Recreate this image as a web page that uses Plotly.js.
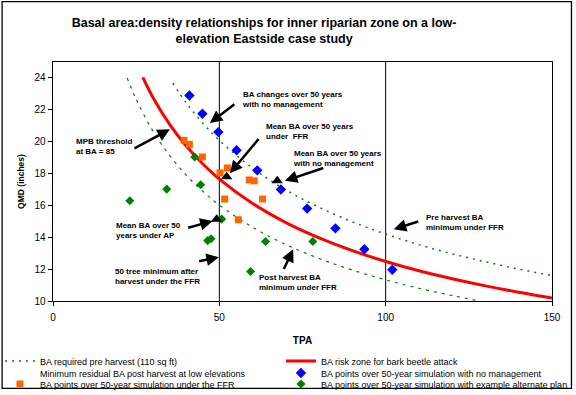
<!DOCTYPE html>
<html>
<head>
<meta charset="utf-8">
<script src="https://cdn.plot.ly/plotly-3.0.1.min.js"></script>
<style>html,body{margin:0;padding:0;background:#fff;}#chart{width:576px;height:395px;}</style>
</head>
<body>
<div id="chart"></div>
<script>
// ---- data ----
const preHarvestTPA = [36, 40, 45, 50, 60, 70, 80, 90, 100, 110, 120, 130, 140, 150];
const preHarvestQMD = [23.67, 22.45, 21.17, 20.08, 18.34, 16.97, 15.88, 14.97, 14.20, 13.54, 12.96, 12.46, 12.00, 11.60];

const riskTPA = [27, 30, 35, 40, 45, 50, 60, 70, 80, 90, 100, 110, 120, 130, 140, 150];
const riskQMD = [24.03, 22.79, 21.10, 19.74, 18.61, 17.65, 16.12, 14.92, 13.96, 13.16, 12.48, 11.90, 11.40, 10.95, 10.55, 10.19];

const residualTPA = [22.3, 25, 30, 35, 40, 45, 50, 60, 70, 80, 90, 100, 110, 120, 128];
const residualQMD = [23.99, 22.66, 20.68, 19.15, 17.91, 16.89, 16.02, 14.63, 13.54, 12.67, 11.94, 11.33, 10.80, 10.34, 10.01];

const noMgmtTPA = [41, 44.9, 49.7, 55.2, 61.4, 68.5, 76.4, 84.9, 93.6, 102];
const noMgmtQMD = [22.9, 21.75, 20.6, 19.46, 18.2, 17.0, 15.8, 14.56, 13.25, 11.96];

const ffrTPA = [39.4, 41.0, 44.9, 50.2, 52.4, 59.0, 60.5, 51.6, 63.0, 55.7];
const ffrQMD = [20.08, 19.83, 19.04, 18.04, 18.35, 17.6, 17.54, 16.4, 16.4, 15.1];

const altTPA = [23.1, 34.2, 42.6, 44.4, 50.7, 46.5, 47.5, 63.9, 78.1, 59.4];
const altQMD = [16.29, 17.02, 19.04, 17.3, 15.14, 13.79, 13.91, 13.73, 13.73, 11.85];

const meanTPA = [52.2, 67.4, 49.2];
const meanQMD = [17.8, 17.54, 15.13];

const thresholdTPA = [50, 100];
const qmdSpan = [10, 25];

const xTicks = [0, 50, 100, 150];
const yTicks = [10, 12, 14, 16, 18, 20, 22, 24];

const seriesNames = [
  'BA required pre harvest (110 sq ft)',
  'Minimum residual BA post harvest at low elevations',
  'BA points over 50-year simulation under the FFR',
  'BA risk zone for bark beetle attack',
  'BA points over 50-year simulation with no management',
  'BA points over 50-year simulation with example alternate plan'
];

// annotation texts and anchors (TPA, QMD)
const noteText = [
  'BA changes over 50 years<br>with no management',
  'Mean BA over 50 years<br>under  FFR',
  'Mean BA over 50 years<br>with no management',
  'MPB threshold<br>at BA = 85',
  'Mean BA over 50<br>years under AP',
  '50 tree minimum after<br>harvest under the FFR',
  'Post harvest BA<br>minimum under FFR',
  'Pre harvest BA<br>minimum under FFR'
];
const noteX = [56.3, 63.3, 71.6, 6.4, 18.2, 17.9, 61.3, 111.6];
const noteY = [22.64, 20.63, 18.95, 19.67, 14.42, 11.54, 11.19, 14.94];
const arrowTailX = [54.98, 62.19, 81.71, 24.03, 40.17, 43.47, 69.19, 110.25];
const arrowTailY = [22.42, 20.26, 18.38, 19.53, 14.57, 12.48, 11.91, 15.02];
const arrowTipX  = [47.17, 53.17, 69.70, 35.15, 47.98, 49.87, 72.19, 102.44];
const arrowTipY  = [21.17, 18.01, 17.54, 20.78, 15.02, 12.75, 13.25, 14.50];

const FONT = 'Arial, "Liberation Sans", sans-serif';

const traces = [];
traces.push({x: [thresholdTPA[0], thresholdTPA[0]], y: qmdSpan, mode: 'lines',
  line: {color: '#000', width: 1}, showlegend: false, hoverinfo: 'skip'});
traces.push({x: [thresholdTPA[1], thresholdTPA[1]], y: qmdSpan, mode: 'lines',
  line: {color: '#000', width: 1}, showlegend: false, hoverinfo: 'skip'});
traces.push({x: preHarvestTPA, y: preHarvestQMD, mode: 'lines', name: seriesNames[0], legend: 'legend',
  line: {color: '#008000', width: 1.5, dash: '2px,5px', shape: 'spline'}});
traces.push({x: residualTPA, y: residualQMD, mode: 'lines', name: seriesNames[1], showlegend: false,
  line: {color: '#008000', width: 1.2, dash: '3px,5px', shape: 'spline'}});
traces.push({x: [null], y: [null], mode: 'lines', name: seriesNames[1], legend: 'legend3',
  line: {color: 'rgba(0,0,0,0)', width: 1}});
traces.push({x: riskTPA, y: riskQMD, mode: 'lines', name: seriesNames[3], legend: 'legend2',
  line: {color: '#FF0000', width: 3, shape: 'spline'}});
traces.push({x: noMgmtTPA, y: noMgmtQMD, mode: 'markers', name: seriesNames[4], legend: 'legend4',
  marker: {symbol: 'diamond', color: '#0000FF', size: 8}});
traces.push({x: ffrTPA, y: ffrQMD, mode: 'markers', name: seriesNames[2], legend: 'legend5',
  marker: {symbol: 'square', color: '#FF6600', size: 7}});
traces.push({x: altTPA, y: altQMD, mode: 'markers', name: seriesNames[5], legend: 'legend6',
  marker: {symbol: 'diamond', color: '#008000', size: 7}});
traces.push({x: meanTPA, y: meanQMD, mode: 'markers', name: 'Mean BA', showlegend: false,
  marker: {symbol: 'triangle-up', color: '#000', size: 10}});

const annotations = [];
for (let i = 0; i < noteText.length; i++) {
  annotations.push({x: arrowTipX[i], y: arrowTipY[i], ax: arrowTailX[i], ay: arrowTailY[i],
    xref: 'x', yref: 'y', axref: 'x', ayref: 'y', text: '', showarrow: true,
    arrowhead: 2, arrowsize: 1, arrowwidth: 2.5, arrowcolor: '#000', standoff: 0, startstandoff: 0});
  annotations.push({x: noteX[i], y: noteY[i], xref: 'x', yref: 'y', text: noteText[i], showarrow: false,
    xanchor: 'left', yanchor: 'middle', align: 'left',
    font: {family: FONT, size: 8, color: '#000', weight: 'bold'}});
}

const legendBase = {orientation: 'h', xref: 'container', yref: 'container', xanchor: 'left', yanchor: 'middle',
  font: {family: FONT, size: 9, color: '#000'}, bgcolor: 'rgba(0,0,0,0)', borderwidth: 0, itemclick: false};
const colLeft = 0, colRight = 281 / 576;
const rowY = [1 - 361 / 395, 1 - 373 / 395, 1 - 384 / 395];

const layout = {
  width: 576, height: 395,
  margin: {l: 53, r: 24, t: 62, b: 94, autoexpand: false},
  paper_bgcolor: '#fff', plot_bgcolor: '#fff',
  font: {family: FONT, color: '#000'},
  title: {text: 'Basal area:density relationships for inner riparian zone on a low-<br>elevation Eastside case study',
    x: 0.423, xanchor: 'center', xref: 'paper', yref: 'container', y: 0.932, yanchor: 'top',
    font: {family: FONT, size: 12.5, weight: 'bold', color: '#000'}},
  xaxis: {range: [0, 150], tickvals: xTicks, ticktext: xTicks.map(String), showgrid: false, zeroline: false,
    showline: true, mirror: true, linecolor: '#000', linewidth: 1.3, ticks: 'outside', ticklen: 4, tickcolor: '#000',
    ticklabelstandoff: 3,
    tickfont: {family: FONT, size: 10}, title: {text: 'TPA', font: {family: FONT, size: 10, weight: 'bold'}, standoff: 14}},
  yaxis: {range: [10, 25], tickvals: yTicks, ticktext: yTicks.map(String), showgrid: false, zeroline: false,
    showline: true, mirror: true, linecolor: '#000', linewidth: 1.3, ticks: 'outside', ticklen: 4, tickcolor: '#000',
    tickfont: {family: FONT, size: 10}, title: {text: 'QMD (inches)', font: {family: FONT, size: 8.5, weight: 'bold'}, standoff: 8}},
  showlegend: true,
  legend:  Object.assign({}, legendBase, {x: colLeft,  y: rowY[0]}),
  legend2: Object.assign({}, legendBase, {x: colRight, y: rowY[0]}),
  legend3: Object.assign({}, legendBase, {x: colLeft,  y: rowY[1]}),
  legend4: Object.assign({}, legendBase, {x: colRight, y: rowY[1]}),
  legend5: Object.assign({}, legendBase, {x: colLeft,  y: rowY[2]}),
  legend6: Object.assign({}, legendBase, {x: colRight, y: rowY[2]}),
  annotations: annotations,
  shapes: [{type: 'rect', xref: 'paper', yref: 'paper', x0: -0.102, x1: 1.039, y0: -0.3657, y1: 1.2523,
    line: {color: '#000', width: 1.3}, fillcolor: 'rgba(0,0,0,0)', layer: 'below'}]
};

Plotly.newPlot('chart', traces, layout, {displayModeBar: false, staticPlot: true});
</script>
</body>
</html>
